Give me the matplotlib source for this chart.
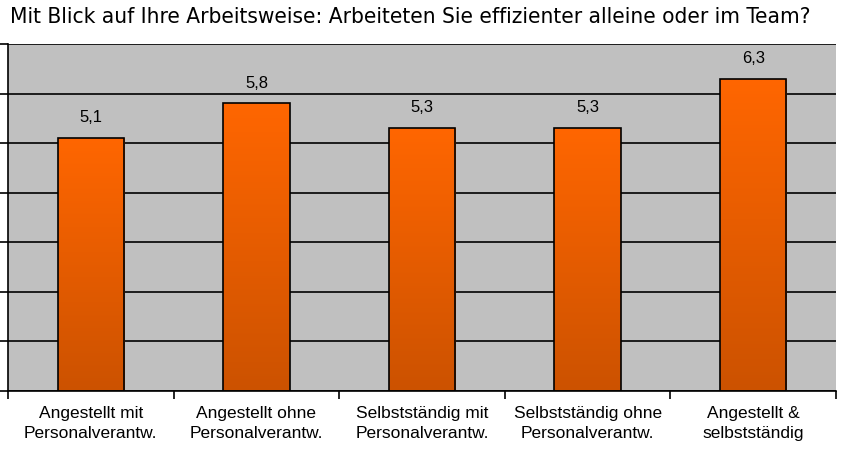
import matplotlib
matplotlib.use("Agg")
import matplotlib.pyplot as plt
import numpy as np
from matplotlib.colors import LinearSegmentedColormap

categories = ["Angestellt mit\nPersonalverantw.", "Angestellt ohne\nPersonalverantw.",
              "Selbstständig mit\nPersonalverantw.", "Selbstständig ohne\nPersonalverantw.",
              "Angestellt &\nselbstständig"]
values = [5.1, 5.8, 5.3, 5.3, 6.3]
title = "Mit Blick auf Ihre Arbeitsweise: Arbeiteten Sie effizienter alleine oder im Team?"

fig = plt.figure(figsize=(8.45, 4.51), dpi=100)
ax = fig.add_axes([8/845, 60/451, 828/845, 347/451])
ax.set_facecolor("#C0C0C0")

x = np.arange(len(values))
w = 0.4
# Verlauf: unten dunkel, oben hell
cmap = LinearSegmentedColormap.from_list("og", ["#CC5200", "#FF6600"])
grad = np.linspace(0, 1, 256).reshape(-1, 1)
bars = ax.bar(x, values, width=w, facecolor="none", edgecolor="black", linewidth=1.2, zorder=3)
for b in bars:
    x0 = b.get_x()
    h = b.get_height()
    im = ax.imshow(grad, extent=[x0, x0 + w, 0, h], origin="lower", cmap=cmap,
                   aspect="auto", zorder=2.5, vmin=0, vmax=1)
    im.set_clip_path(b)

ax.set_xlim(-0.5, len(values) - 0.5)
ax.set_ylim(0, 7)
ax.set_yticks(np.arange(0, 8))
ax.set_yticklabels([])
ax.yaxis.grid(True, color="black", linewidth=1.2)
ax.set_axisbelow(True)
ax.tick_params(axis="y", length=6, width=1.2, direction="out")

ax.set_xticks(np.arange(-0.5, len(values)))
ax.set_xticklabels([])
ax.tick_params(axis="x", length=6, width=1.2, direction="out")
for i, c in enumerate(categories):
    ax.text(i, -0.31, c, ha="center", va="top", fontsize=12.5, family="Liberation Sans",
            linespacing=1.4)

for i, v in enumerate(values):
    ax.text(i, v + 0.26, f"{v:.1f}".replace(".", ","), ha="center", va="bottom",
            fontsize=12, family="Liberation Sans")

for s in ["top", "right"]:
    ax.spines[s].set_visible(False)
ax.spines["left"].set_linewidth(1.2)
ax.spines["bottom"].set_linewidth(1.2)

fig.text(410/845, 1 - 17/451, title, ha="center", va="center", fontsize=16.2,
         family="DejaVu Sans", fontstretch="condensed")

fig.savefig("out.png", dpi=100)
